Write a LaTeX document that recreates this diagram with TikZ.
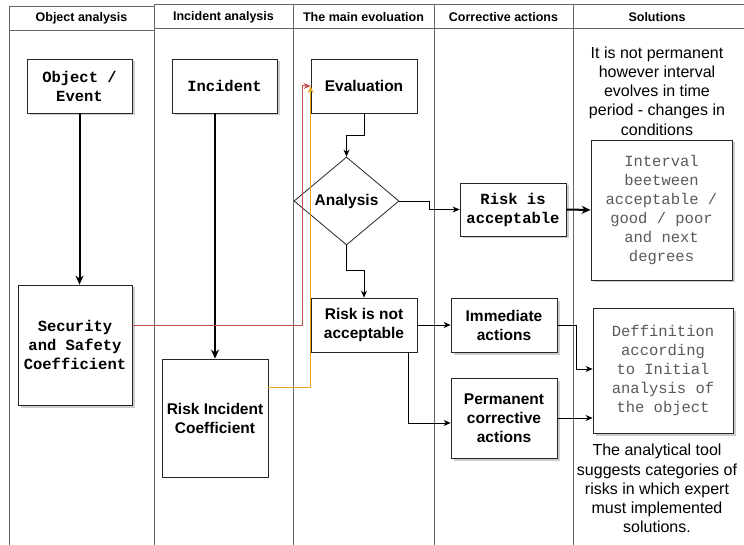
\documentclass[tikz,border=0pt]{standalone}
\usepackage{fontspec}
\setmainfont{Liberation Sans}
\newfontfamily\monof{Liberation Mono}
\usetikzlibrary{arrows.meta,shapes.geometric,shadows,calc}
\definecolor{lanec}{HTML}{666666}
\definecolor{redc}{HTML}{C0504D}
\definecolor{orac}{HTML}{E8A317}
\definecolor{grtxt}{HTML}{5A5A5A}
\tikzset{
  lane/.style={draw=lanec, line width=0.9pt},
  hdr/.style={font=\fontsize{12.5pt}{15pt}\selectfont\bfseries},
  bx/.style={draw=black!85, fill=white, line width=0.8pt, align=center, inner sep=0pt},
  shd/.style={drop shadow={shadow xshift=2.5pt, shadow yshift=-2.5pt, fill=black!40, opacity=0.5}},
  monob/.style={font=\fontsize{15.5pt}{19pt}\selectfont\monof\bfseries},
  monog/.style={font=\fontsize{15.5pt}{19pt}\selectfont\monof, text=grtxt},
  sansb/.style={font=\fontsize{15.5pt}{19pt}\selectfont\bfseries},
  note/.style={font=\fontsize{16pt}{19.2pt}\selectfont, align=center, inner sep=0pt},
  thk/.style={draw=black, line width=2pt, -{Stealth[length=9pt,width=8pt]}},
  thn/.style={draw=black, line width=0.8pt, -{Stealth[length=7pt,width=6pt]}},
}
\begin{document}
\begin{tikzpicture}[x=1pt,y=-1pt]
\useasboundingbox (0,0) rectangle (744,545);
\begin{scope}
\clip (0,0) rectangle (744,545);
% swimlanes
\draw[lane] (9,6) rectangle (154,560);
\draw[lane] (9,30) -- (154,30);
\draw[lane] (154,4) -- (760,4);
\draw[lane] (154,28) -- (760,28);
\foreach \xx in {154,293,434,573} \draw[lane] (\xx,4) -- (\xx,560);
\end{scope}
\node[hdr] (h1) at (81.5,18.5) {Object analysis};
\node[hdr] (h2) at (223.5,17) {Incident analysis};
\node[hdr] (h3) at (363.5,17) {The main evoluation};
\node[hdr] (h4) at (503.5,17) {Corrective actions};
\node[hdr] (h5) at (657,17) {Solutions};

% nodes
\node[bx,shd,monob,minimum width=105pt,minimum height=54pt] (obj) at (79.5,86) {Object /\\Event};
\node[bx,shd,monob,minimum width=105pt,minimum height=54pt] (inc) at (224.5,86) {Incident};
\node[bx,shd,monob,minimum width=114pt,minimum height=120pt] (sec) at (75,345) {Security\\and Safety\\Coefficient};
\node[bx,sansb,minimum width=106pt,minimum height=118pt] (ric) at (215,418) {Risk Incident\\Coefficient};
\node[bx,sansb,minimum width=106pt,minimum height=54pt] (eval) at (364,86) {Evaluation};
\node[diamond,draw=black!85,fill=white,line width=0.8pt,inner sep=0pt,aspect=1.19,minimum width=105pt,minimum height=88pt,sansb] (ana) at (346.5,201) {Analysis};
\node[bx,sansb,minimum width=106pt,minimum height=54pt] (rna) at (364,325) {Risk is not\\acceptable};
\node[bx,shd,monob,minimum width=106pt,minimum height=53pt] (ra) at (513,209.5) {Risk is\\acceptable};
\node[bx,shd,sansb,minimum width=106pt,minimum height=54pt] (imm) at (504,325) {Immediate\\actions};
\node[bx,shd,sansb,minimum width=106pt,minimum height=80pt] (perm) at (504,418) {Permanent\\corrective\\actions};
\node[bx,shd,monog,minimum width=141pt,minimum height=140pt] (intv) at (661.5,210) {Interval\\beetween\\acceptable /\\good / poor\\and next\\degrees};
\node[bx,shd,monog,minimum width=140pt,minimum height=125pt] (def) at (663,370.5) {Deffinition\\according\\to Initial\\analysis of\\the object};
\node[note] (n1) at (657,91) {It is not permanent\\however interval\\evolves in time\\period - changes in\\conditions};
\node[note] (n2) at (657,488.5) {The analytical tool\\suggests categories of\\risks in which expert\\must implemented\\solutions.};

% connectors
\draw[thk] (obj.south) -- (obj.south |- sec.north);
\draw[thk] (ric.north |- inc.south) -- (ric.north);
\draw[thk] (ra.east) -- (intv.west);
\draw[thn] (eval.south) -- ++(0,22) -| (ana.north);
\draw[thn] (ana.south) -- ++(0,25) -| (rna.north);
\draw[thn] (ana.east) -- ++(30,0) |- (ra.west);
\draw[thn] (rna.east) -- (imm.west);
\draw[thn] ($(rna.south)+(44,0)$) |- ($(perm.west)+(0,5)$);
\draw[thn] (imm.east) -- ++(19,0) |- ($(def.west)+(0,-1.5)$);
\draw[thn] (perm.east) -- (perm.east -| def.west);
\draw[redc, line width=1pt, -{Stealth[length=7pt,width=6pt]}] ($(sec.east)+(0,-20)$) -- (302,325) |- (eval.west);
\draw[orac, line width=1pt, -{Stealth[length=7pt,width=6pt]}] ($(ric.east)+(0,-31)$) -| (eval.west);
\end{tikzpicture}
\end{document}
